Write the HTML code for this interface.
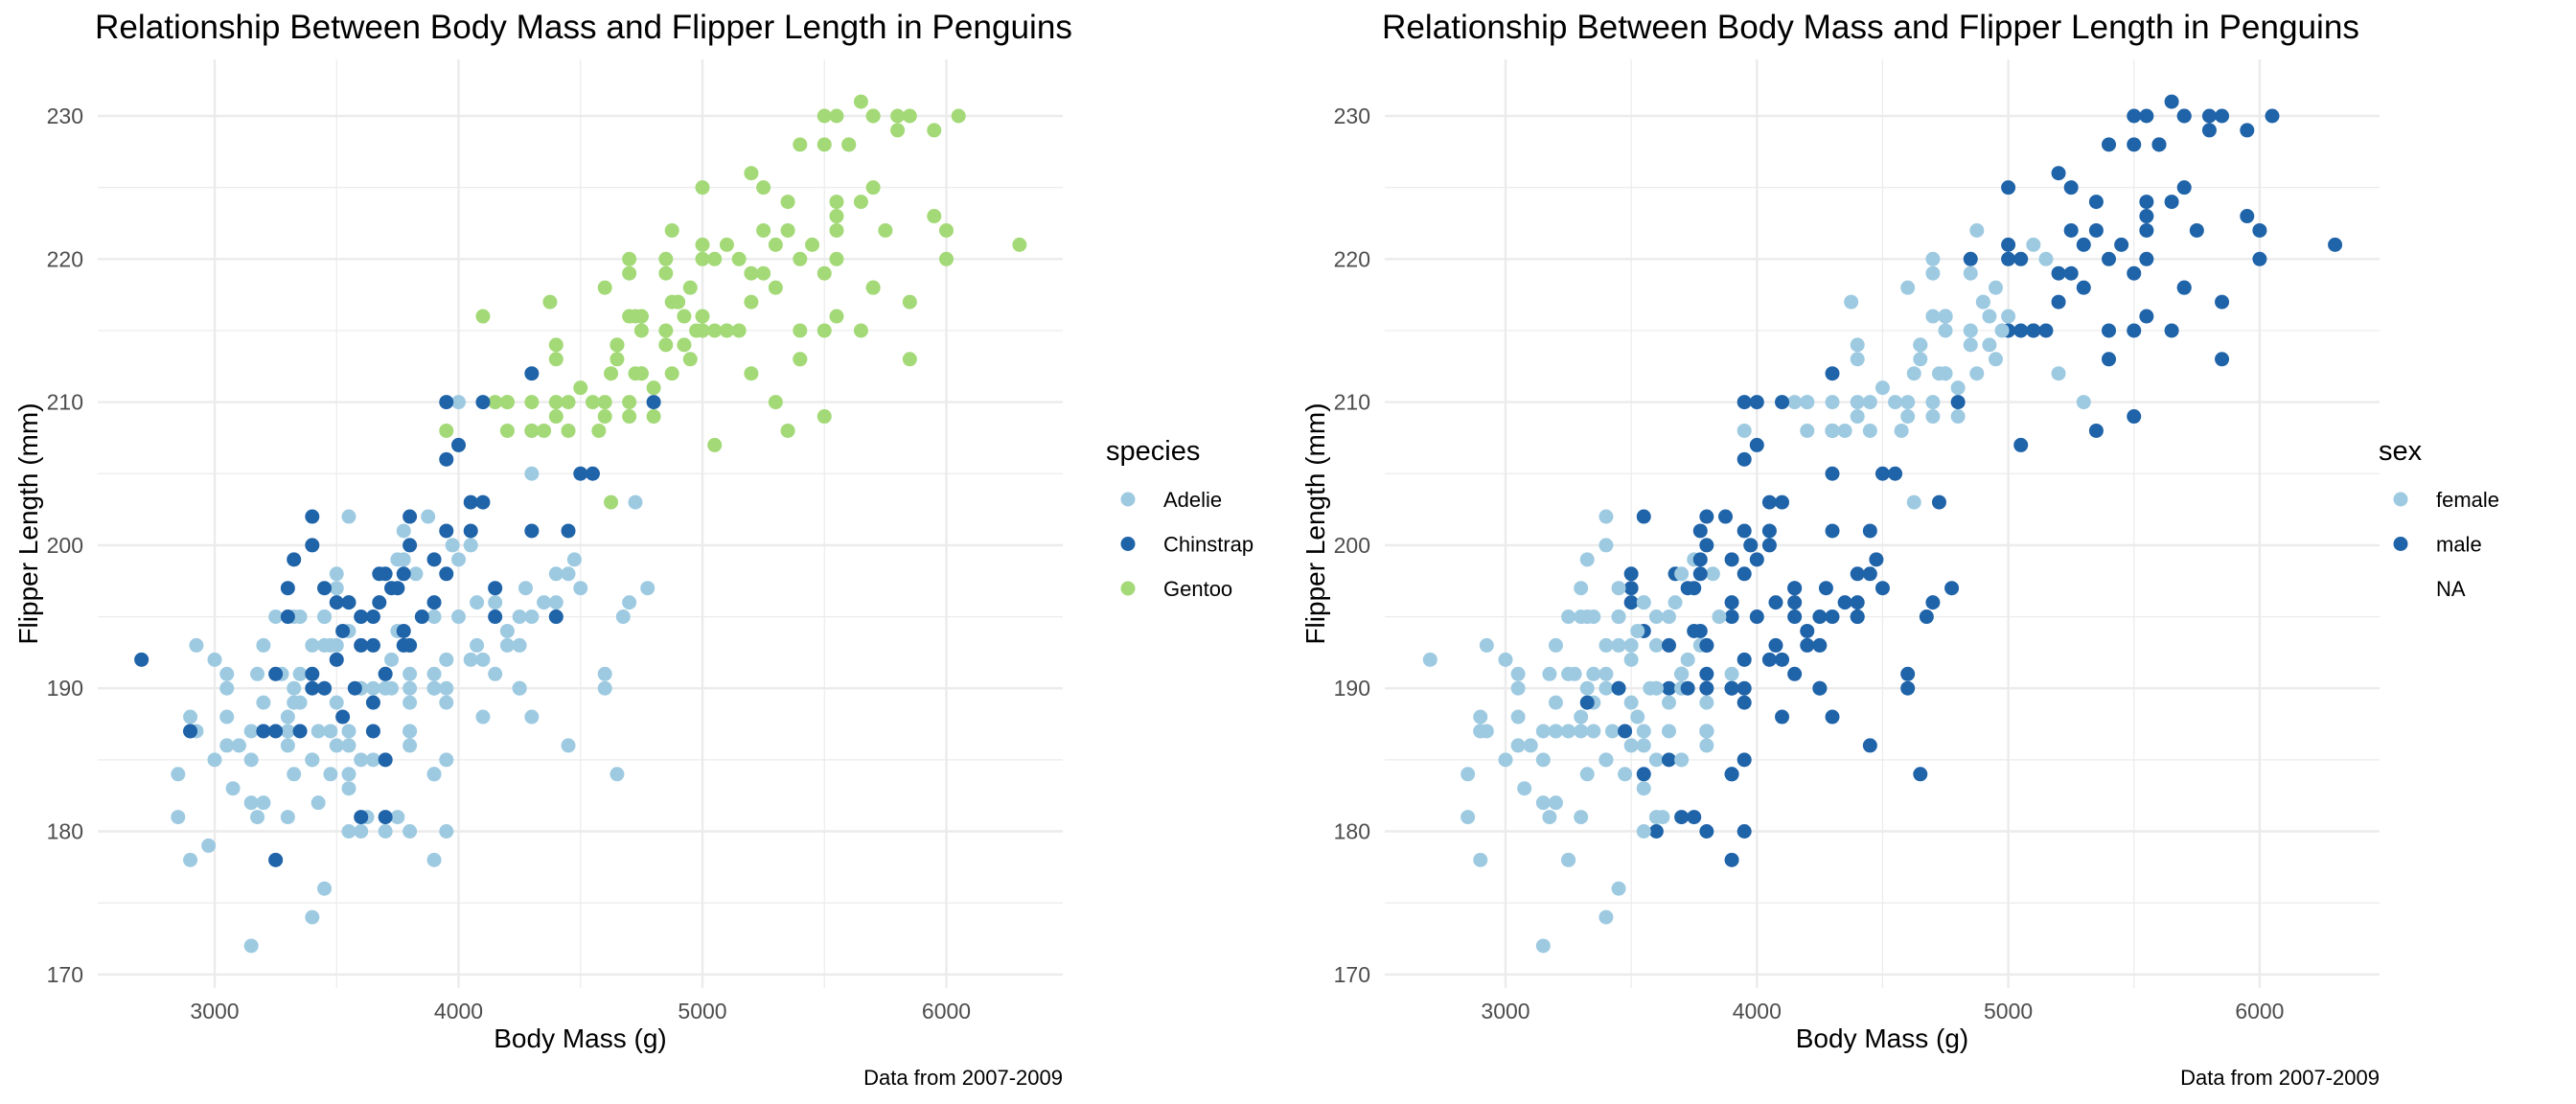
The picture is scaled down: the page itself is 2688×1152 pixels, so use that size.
<!DOCTYPE html>
<html><head><meta charset="utf-8"><style>
html,body{margin:0;padding:0;background:#fff;}
svg{display:block;font-family:"Liberation Sans",Arial,sans-serif;}
</style></head><body>
<svg id="root" width="2688" height="1152" viewBox="0 0 2688 1152" xmlns="http://www.w3.org/2000/svg"></svg>
<script>
// ---- data ----
const xTicks = [3000,4000,5000,6000];
const xMinor = [3500,4500,5500];
const yTicks = [170,180,190,200,210,220,230];
const yMinor = [175,185,195,205,215,225];
const speciesNames = ["Adelie","Chinstrap","Gentoo"];
const sexNames = ["female","male","NA"];
const speciesColors = ["#9ecae1","#1f63a8","#a3d977"];
const sexColors = ["#9ecae1","#1f63a8","none"];

const adelieMass = [3750,3800,3250,3450,3650,3625,4675,3475,4250,3300,3700,3200,3800,4400,3700,3450,4500,3325,4200,
3400,3600,3800,3950,3800,3800,3550,3200,3150,3950,
3250,3900,3300,3900,3325,4150,3950,3550,3300,4650,3150,3900,3100,4400,3000,4600,3425,2975,3450,4150,
3500,4300,3450,4050,2900,3700,3550,3800,2850,3750,3150,4400,3600,4050,2850,3950,3350,4100,
3050,4450,3600,3900,3550,4150,3700,4250,3700,3900,3550,4000,3200,4700,3800,4200,
3350,3550,3800,3500,3950,3600,3550,4300,3400,4450,3300,4300,3700,4350,2900,4100,
3725,4725,3075,4250,2925,3550,3750,3900,3175,4775,3825,4600,3200,4275,3900,4075,2900,3775,3350,3325,
3150,3500,3450,3875,3050,4000,3275,4300,3050,4000,3325,3500,3500,4475,3425,3900,
3175,3975,3400,4250,3400,3475,3050,3725,3000,3650,4250,3475,3450,4075,2925,3775];
const adelieFlipper = [181,186,195,193,190,181,195,193,190,186,180,182,191,198,185,195,197,184,194,
174,180,189,185,180,187,183,187,172,180,
178,178,188,184,195,196,190,180,181,184,182,195,186,196,185,190,182,179,190,191,
186,188,190,200,187,191,186,193,181,194,185,195,185,192,184,192,195,188,
190,198,190,190,196,197,190,195,191,184,187,195,189,196,187,193,
191,194,190,189,189,190,202,205,185,186,187,208,190,196,178,192,
192,203,183,190,193,184,199,190,181,197,198,191,193,197,191,196,188,199,189,189,
187,198,176,202,186,199,191,195,191,210,190,197,193,199,187,190,
191,200,185,193,193,187,188,190,192,185,190,184,195,193,187,201];
const adelieSex = [1,0,0,0,1,0,1,2,2,2,2,0,1,1,0,0,1,0,1,
0,1,0,1,1,1,0,0,0,1,
0,1,0,1,0,1,1,0,0,1,0,1,0,1,0,1,2,2,0,1,
0,1,0,1,0,1,0,1,0,1,0,1,0,1,0,1,0,1,
0,1,0,1,0,1,0,1,0,1,0,1,0,1,0,1,
0,1,1,0,1,0,1,1,0,1,0,1,0,1,0,1,
0,1,0,1,0,1,0,1,0,1,0,1,0,1,0,1,0,1,0,1,
0,1,0,1,0,1,0,1,0,1,0,1,0,1,0,1,
0,1,0,1,0,1,0,1,0,1,1,0,0,1,0,1];

const gentooMass = [4500,5700,4450,5700,5400,4550,4800,5200,4400,5150,4650,5550,4650,5850,4200,5850,4150,6300,4800,5350,
5700,5000,4400,5050,5000,5100,4100,5650,4600,5550,5250,4700,5050,6050,5150,5400,4950,5250,4350,5350,
3950,5700,4300,4750,5550,4900,4200,5400,5100,5300,4850,4400,5000,4900,5050,4300,5000,4450,5550,4200,
5300,4400,5650,4700,5700,4650,5800,4700,5550,4750,5000,5100,5200,4700,5800,4600,6000,4750,5950,4625,
5450,4725,5350,4750,5600,4600,5300,4875,5550,4950,5400,4750,5650,4850,5200,4925,4875,4625,5250,4850,
5600,4975,5500,4725,5500,4700,5500,4575,5500,5000,5950,4650,5500,4375,5850,4875,6000,4925,4850,5750,5200,5400];
const gentooFlipper = [211,230,210,218,215,210,211,219,209,215,214,216,214,213,210,217,210,221,209,222,
218,215,213,215,215,215,216,215,210,220,222,209,207,230,220,220,213,219,208,208,
208,225,210,216,222,217,210,213,215,210,220,210,225,217,220,208,220,208,224,208,
221,214,231,219,230,214,229,220,223,216,221,221,217,216,230,209,220,215,223,212,
221,212,224,212,228,218,218,212,230,218,228,212,224,214,226,216,222,203,225,219,
228,215,228,216,215,210,219,208,209,216,229,213,230,217,230,217,222,214,215,222,212,213];
const gentooSex = [0,1,0,1,1,0,0,1,0,1,0,1,0,1,0,1,0,1,0,1,
1,0,0,1,1,1,2,1,0,1,1,0,1,1,0,1,0,1,0,1,
0,1,0,1,1,0,0,0,1,0,1,0,1,0,1,0,1,0,1,0,
1,0,1,0,1,0,1,0,1,0,1,0,1,0,1,0,1,0,1,0,
1,0,1,0,1,0,1,0,1,0,1,0,1,0,1,0,0,0,1,0,
1,0,1,2,1,0,1,0,1,0,1,0,1,0,1,2,1,0,0,1,0,1];

const chinMass = [2700,2900,3250,3250,3200,3250,3350,3300,3300,3325,3400,3400,3450,3400,3450,3400,3500,3550,3500,3525,3525,
3600,3600,3575,3650,3650,3650,3650,3600,3675,3675,3700,3700,3700,3700,3725,3750,3775,3775,3775,3800,3800,3800,
3850,3900,3900,3950,3950,3950,3950,4000,4050,4100,4050,4150,4150,4100,4300,4300,4400,4450,4500,4550,4800];
const chinFlipper = [192,187,191,178,187,187,187,195,197,199,202,200,197,190,190,191,196,196,192,194,188,
195,193,190,195,193,189,187,181,196,198,198,191,185,181,197,197,198,194,193,193,200,202,
195,199,196,201,198,206,210,207,203,203,201,197,195,210,212,201,195,201,205,205,210];
const chinSex = [0,0,0,0,0,0,0,0,0,0,0,0,0,0,1,0,1,0,0,0,0,
0,0,0,0,1,0,0,0,0,1,0,0,0,1,1,1,1,1,0,1,1,1,
0,1,1,1,1,1,1,1,1,1,1,1,1,1,1,1,1,1,1,1,1];

// ---- geometry ----
const NS='http://www.w3.org/2000/svg';
const root=document.getElementById('root');
function mk(tag,attrs,parent){const e=document.createElementNS(NS,tag);for(const k in attrs)e.setAttribute(k,attrs[k]);(parent||root).appendChild(e);return e;}
function yScale(v){return 121+(230-v)*14.93;}
const panelTop=62, panelBottom=1031;

function drawChart(off, x0, x3000, perG, right, title, legendTitle, legendNames, legendColors, colorOf){
  const xs=v=>x3000+(v-3000)*perG;
  const g=mk('g',{});
  
  
  yMinor.forEach(v=>{const l=mk('line',{x1:x0,x2:right,y1:yScale(v),y2:yScale(v),stroke:'#ebebeb','stroke-width':1.2},g);
    });
  xMinor.forEach(v=>{const l=mk('line',{x1:xs(v),x2:xs(v),y1:panelTop,y2:panelBottom,stroke:'#ebebeb','stroke-width':1.2},g);
    });
  yTicks.forEach(v=>{const l=mk('line',{x1:x0,x2:right,y1:yScale(v),y2:yScale(v),stroke:'#ebebeb','stroke-width':2.4},g);
    
    const t=mk('text',{x:x0-15,y:yScale(v)+8,'text-anchor':'end','font-size':23,fill:'#4d4d4d'},g);t.textContent=v;
    });
  xTicks.forEach(v=>{const l=mk('line',{x1:xs(v),x2:xs(v),y1:panelTop,y2:panelBottom,stroke:'#ebebeb','stroke-width':2.4},g);
    
    const t=mk('text',{x:xs(v),y:1063,'text-anchor':'middle','font-size':23,fill:'#4d4d4d'},g);t.textContent=v;
    });
  const sets=[[adelieMass,adelieFlipper,adelieSex,0],[gentooMass,gentooFlipper,gentooSex,2],[chinMass,chinFlipper,chinSex,1]];
  sets.forEach(([m,f,s,sp])=>{
    const n=Math.min(m.length,f.length,s.length);
    for(let i=0;i<n;i++){
      const c=colorOf(sp,s[i]); if(c==='none') continue;
      const p=mk('circle',{cx:xs(m[i]),cy:yScale(f[i]),r:7.5,fill:c},g);
      
      
    }
  });
  const t1=mk('text',{x:x0-3,y:40,'font-size':35.5,fill:'#000',textLength:1020,lengthAdjust:'spacingAndGlyphs'},g);t1.textContent=title;
  
  const xt=mk('text',{x:(x0+right)/2,y:1093,'text-anchor':'middle','font-size':28,fill:'#000'},g);xt.textContent='Body Mass (g)';
  
  const yt=mk('text',{x:0,y:0,'text-anchor':'middle','font-size':28,fill:'#000',transform:`translate(${off+39},${(panelTop+panelBottom)/2}) rotate(-90)`},g);yt.textContent='Flipper Length (mm)';
  
  const cap=mk('text',{x:right,y:1132,'text-anchor':'end','font-size':22,fill:'#000'},g);cap.textContent='Data from 2007-2009';
  
  const lx=off===0?1154:2482;
  const lt=mk('text',{x:lx,y:480,'font-size':29,fill:'#000'},g);lt.textContent=legendTitle;
  
  legendNames.forEach((nm,i)=>{
    const cy=521+i*46.5;
    if(legendColors[i]!=='none'){const d=mk('circle',{cx:lx+23,cy:cy,r:7.5,fill:legendColors[i]},g);
      }
    const lb=mk('text',{x:lx+60,y:cy+8,'font-size':22,fill:'#000'},g);lb.textContent=nm;
    
  });
}
const T='Relationship Between Body Mass and Flipper Length in Penguins';
drawChart(0,102,224,0.2545,1109,T,'species',speciesNames,speciesColors,(sp,s)=>speciesColors[sp]);
drawChart(1343,1445,1571,0.2623,2483,T,'sex',sexNames,sexColors,(sp,s)=>sexColors[s]);
</script>
</body></html>
